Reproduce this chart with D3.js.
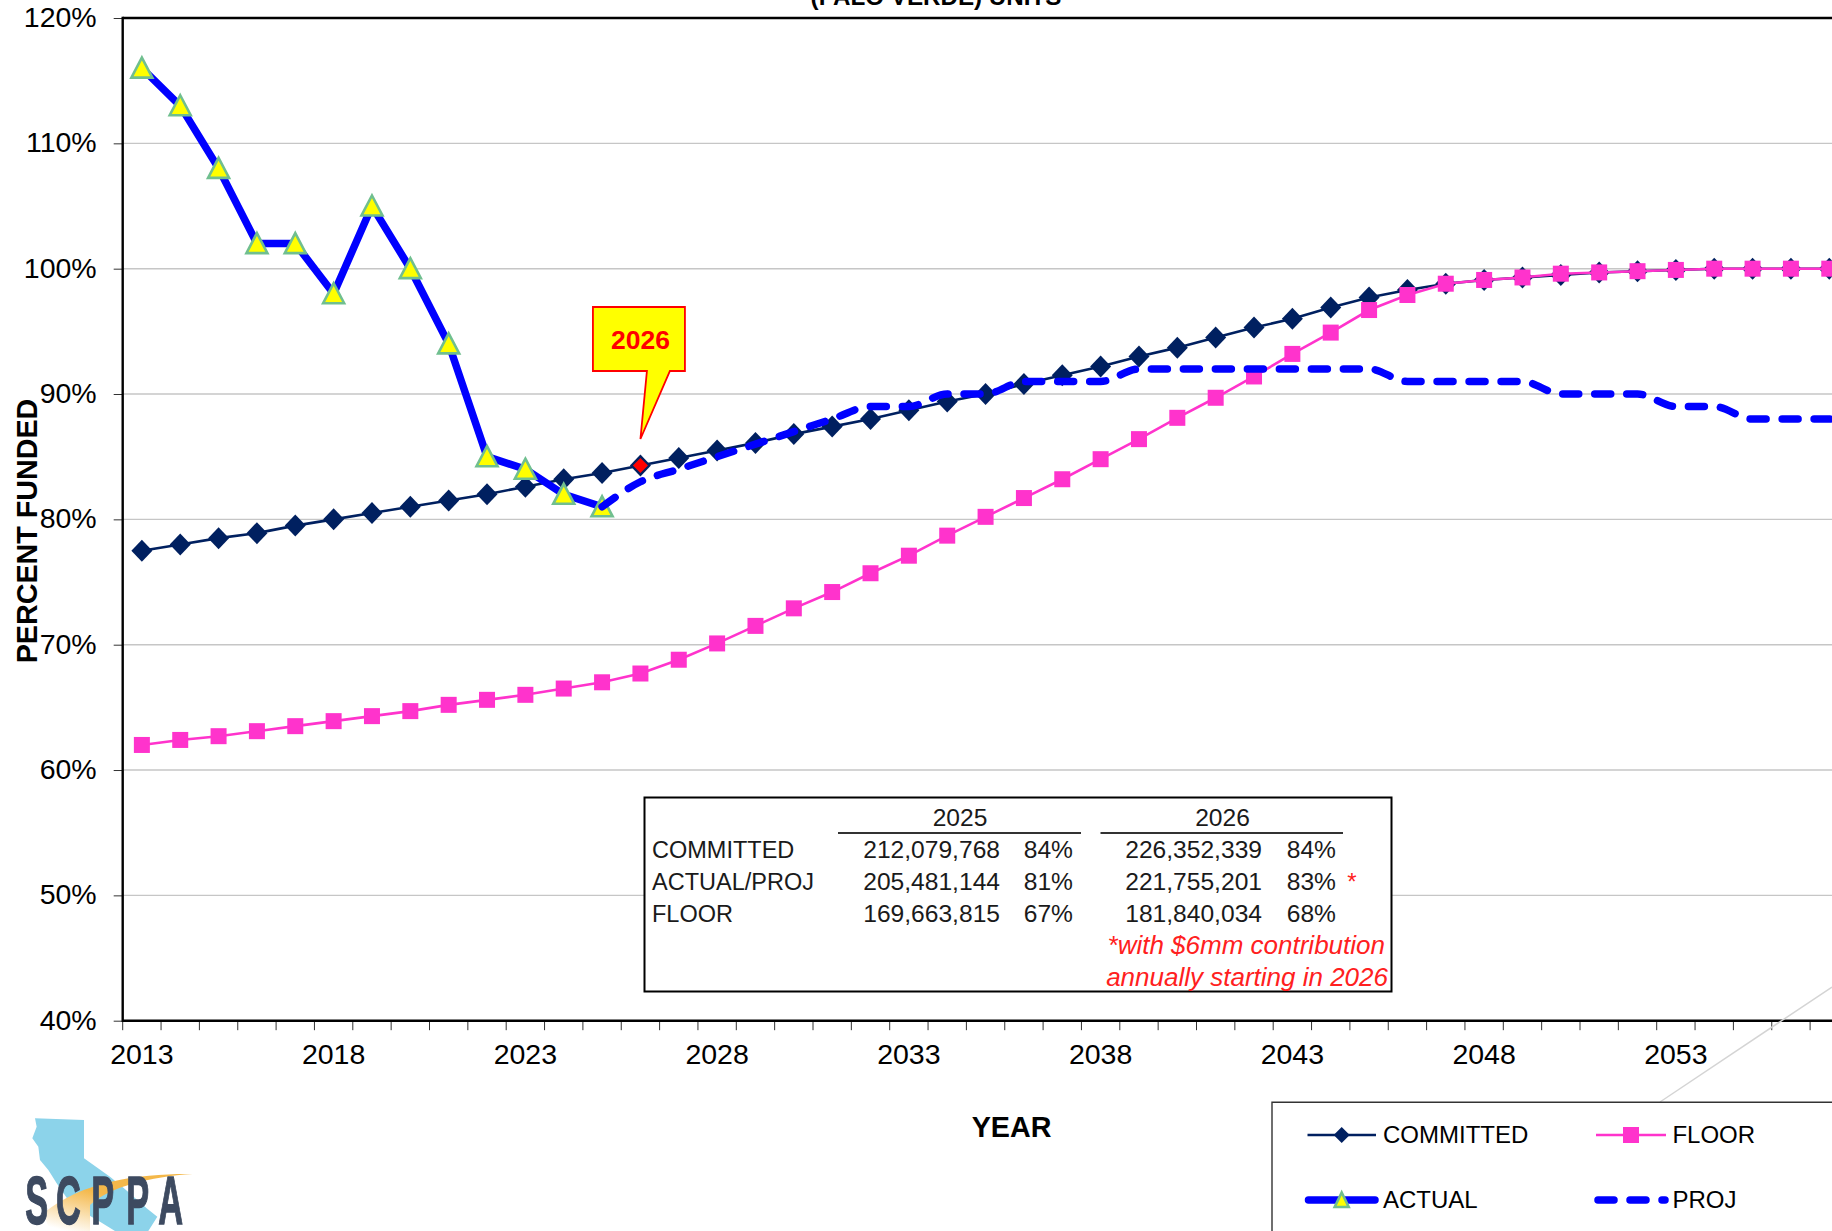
<!DOCTYPE html>
<html>
  <head>
    <style>
      html, body { margin: 0; padding: 0; background: #fff; overflow: hidden; }
      svg { display: block; }
      text { font-family: "Liberation Sans", Arial, sans-serif; }
      .axis-label { font-size: 28.5px; fill: #000; }
      .axis-title { font-size: 28.7px; font-weight: bold; fill: #000; }
      .box-text { font-size: 24.6px; fill: #1a1a1a; }
      .box-label { font-size: 23.5px; fill: #1a1a1a; }
      .note-text { font-size: 26px; font-style: italic; fill: #ff2020; }
      .legend-text { font-size: 24px; fill: #000; }
    </style>
  </head>
  <body>
    <svg width="1832" height="1231"></svg>
    <script src="https://d3js.org/d3.v7.min.js"></script>
    <script>
      // Chart data
      const years = d3.range(2013, 2059);
      const committed = [77.5, 78, 78.5, 78.9, 79.5, 80, 80.5, 81, 81.5, 82, 82.6, 83.2, 83.7, 84.3, 84.9, 85.5, 86.1, 86.8, 87.4, 88, 88.7, 89.4, 90, 90.8, 91.5, 92.2, 93, 93.7, 94.5, 95.3, 96, 96.9, 97.7, 98.3, 98.8, 99.1, 99.3, 99.5, 99.7, 99.8, 99.9, 100, 100, 100, 100, 100];
      const floorPct = [62, 62.4, 62.7, 63.1, 63.5, 63.9, 64.3, 64.7, 65.2, 65.6, 66, 66.5, 67, 67.7, 68.8, 70.1, 71.5, 72.9, 74.2, 75.7, 77.1, 78.7, 80.2, 81.7, 83.2, 84.8, 86.4, 88.1, 89.7, 91.4, 93.2, 94.9, 96.7, 97.9, 98.8, 99.1, 99.3, 99.6, 99.7, 99.8, 99.9, 100, 100, 100, 100, 100];
      const actualYears = d3.range(2013, 2026);
      const actual = [116, 113, 108, 102, 102, 98, 105, 100, 94, 85, 84, 82, 81];
      const projYears = d3.range(2025, 2059);
      const proj = [81, 83, 84, 85, 86, 87, 88, 89, 89, 90, 90, 91, 91, 91, 92, 92, 92, 92, 92, 92, 92, 91, 91, 91, 91, 90, 90, 90, 89, 89, 88, 88, 88, 88];
      const yTicks = [40, 50, 60, 70, 80, 90, 100, 110, 120];
      const xLabelYears = [2013, 2018, 2023, 2028, 2033, 2038, 2043, 2048, 2053];
      const highlightYear = 2026;

      // Text table inside the chart
      const tableHeaders = ["2025", "2026"];
      const tableRows = ["COMMITTED", "ACTUAL/PROJ", "FLOOR"];
      const tableAmounts2025 = ["212,079,768", "205,481,144", "169,663,815"];
      const tablePct2025 = ["84%", "81%", "67%"];
      const tableAmounts2026 = ["226,352,339", "221,755,201", "181,840,034"];
      const tablePct2026 = ["84%", "83%", "68%"];

      const plotLeft = 122.7, plotTop = 18, plotBottom = 1020.7, step = 38.35;
      const navy = "#002060", pink = "#ff33cc", blue = "#0000ff";

      const svg = d3.select("svg");

      const x = d3.scaleBand()
        .domain(years)
        .range([plotLeft, plotLeft + years.length * step]);
      const cx = (d) => x(d) + x.bandwidth() / 2;
      const y = d3.scaleLinear().domain([40, 120]).range([plotBottom, plotTop]);

      // Title, cut off by the top of the picture
      svg.append("text")
        .attr("x", 936)
        .attr("y", 4.5)
        .attr("text-anchor", "middle")
        .style("font-size", "24.2px")
        .style("font-weight", "bold")
        .text("(PALO VERDE) UNITS");

      // Gridlines
      svg.append("g")
        .selectAll("line")
        .data(yTicks.filter((d) => d > 40 && d < 120))
        .enter()
        .append("line")
        .attr("x1", plotLeft)
        .attr("x2", 1832)
        .attr("y1", (d) => y(d))
        .attr("y2", (d) => y(d))
        .attr("stroke", "#c6c6c6")
        .attr("stroke-width", 1.4);

      // Y axis
      const yAxis = svg.append("g")
        .attr("transform", `translate(${plotLeft},0)`)
        .call(d3.axisLeft(y).tickValues(yTicks).tickFormat((d) => d + "%").tickSize(9).tickPadding(17));
      yAxis.select(".domain").remove();
      yAxis.selectAll("line").attr("stroke", "#333").attr("stroke-width", 1);
      yAxis.selectAll("text").attr("class", "axis-label").attr("dy", "0.3em");

      // X axis, ticks sit between the years
      svg.append("g")
        .selectAll("line")
        .data(years)
        .enter()
        .append("line")
        .attr("x1", (d) => x(d))
        .attr("x2", (d) => x(d))
        .attr("y1", plotBottom)
        .attr("y2", plotBottom + 9.5)
        .attr("stroke", "#333")
        .attr("stroke-width", 1);
      const xAxis = svg.append("g")
        .attr("transform", `translate(0,${plotBottom})`)
        .call(d3.axisBottom(x).tickValues(xLabelYears).tickSize(0).tickPadding(23));
      xAxis.select(".domain").remove();
      xAxis.selectAll("text").attr("class", "axis-label");

      // Plot frame
      const frame = [
        [plotLeft, plotTop, 1832, plotTop],
        [plotLeft, plotBottom, 1832, plotBottom],
        [plotLeft, plotTop - 1.2, plotLeft, plotBottom + 1.2],
      ];
      svg.append("g")
        .selectAll("line")
        .data(frame)
        .enter()
        .append("line")
        .attr("x1", (d) => d[0])
        .attr("y1", (d) => d[1])
        .attr("x2", (d) => d[2])
        .attr("y2", (d) => d[3])
        .attr("stroke", "#000")
        .attr("stroke-width", 2.4);

      // Leftover leader line running up behind the legend
      svg.append("line")
        .attr("x1", 1660)
        .attr("y1", 1102)
        .attr("x2", 1832)
        .attr("y2", 987)
        .attr("stroke", "#d4d4d4")
        .attr("stroke-width", 1.5);

      const line = d3.line().x((d) => cx(d[0])).y((d) => y(d[1]));
      const diamond = "M0,-11L10.5,0L0,11L-10.5,0Z";
      const triangle = "M0,-10.5L10.5,9.5L-10.5,9.5Z";

      // Committed
      svg.append("path")
        .attr("d", line(d3.zip(years, committed)))
        .attr("fill", "none")
        .attr("stroke", navy)
        .attr("stroke-width", 2.6);
      svg.append("g")
        .selectAll("path")
        .data(d3.zip(years, committed))
        .enter()
        .append("path")
        .attr("transform", (d) => `translate(${cx(d[0])},${y(d[1])})`)
        .attr("d", diamond)
        .attr("fill", navy);
      // The 2026 point is picked out in red
      svg.append("path")
        .attr("transform", `translate(${cx(highlightYear)},${y(committed[years.indexOf(highlightYear)])})`)
        .attr("d", "M0,-7.5L7.5,0L0,7.5L-7.5,0Z")
        .attr("fill", "#ff0000");

      // Floor
      svg.append("path")
        .attr("d", line(d3.zip(years, floorPct)))
        .attr("fill", "none")
        .attr("stroke", pink)
        .attr("stroke-width", 2.6);
      svg.append("g")
        .selectAll("rect")
        .data(d3.zip(years, floorPct))
        .enter()
        .append("rect")
        .attr("x", (d) => cx(d[0]) - 8)
        .attr("y", (d) => y(d[1]) - 8)
        .attr("width", 16)
        .attr("height", 16)
        .attr("fill", pink);

      // Actual
      svg.append("path")
        .attr("d", line(d3.zip(actualYears, actual)))
        .attr("fill", "none")
        .attr("stroke", blue)
        .attr("stroke-width", 7.5);
      svg.append("g")
        .selectAll("path")
        .data(d3.zip(actualYears, actual))
        .enter()
        .append("path")
        .attr("transform", (d) => `translate(${cx(d[0])},${y(d[1])})`)
        .attr("d", triangle)
        .attr("fill", "#ffff00")
        .attr("stroke", "#70bf8f")
        .attr("stroke-width", 2.6);

      // Projection
      svg.append("path")
        .attr("d", line.curve(d3.curveMonotoneX)(d3.zip(projYears, proj)))
        .attr("fill", "none")
        .attr("stroke", blue)
        .attr("stroke-width", 7.5)
        .attr("stroke-linecap", "round")
        .attr("stroke-dasharray", "16 16");

      // 2026 callout
      const tipX = cx(highlightYear);
      svg.append("path")
        .attr("d", `M${tipX - 47.5},307 H${tipX + 44.5} V371 H${tipX + 29.5} L${tipX},439 L${tipX + 6.5},371 H${tipX - 47.5} Z`)
        .attr("fill", "#ffff00")
        .attr("stroke", "#ff0000")
        .attr("stroke-width", 1.8);
      svg.append("text")
        .attr("x", tipX)
        .attr("y", 349)
        .attr("text-anchor", "middle")
        .attr("fill", "#ff0000")
        .style("font-size", "26.5px")
        .style("font-weight", "bold")
        .text(highlightYear);

      // Table box
      const table = svg.append("g");
      table.append("rect")
        .attr("x", 644.5)
        .attr("y", 797.5)
        .attr("width", 747)
        .attr("height", 194)
        .attr("fill", "#fff")
        .attr("stroke", "#000")
        .attr("stroke-width", 2);
      const rowY = (i) => 858 + i * 32;
      const columns = [
        { headerX: 960, ruleFrom: 838, ruleTo: 1081, amountX: 1000, pctX: 1073, amounts: tableAmounts2025, pcts: tablePct2025 },
        { headerX: 1222.5, ruleFrom: 1100.5, ruleTo: 1343, amountX: 1262, pctX: 1336, amounts: tableAmounts2026, pcts: tablePct2026 },
      ];
      columns.forEach((c, k) => {
        table.append("text")
          .attr("class", "box-text")
          .attr("x", c.headerX)
          .attr("y", 826)
          .attr("text-anchor", "middle")
          .text(tableHeaders[k]);
        table.append("line")
          .attr("x1", c.ruleFrom)
          .attr("x2", c.ruleTo)
          .attr("y1", 833)
          .attr("y2", 833)
          .attr("stroke", "#333")
          .attr("stroke-width", 2);
        c.amounts.forEach((a, i) => {
          table.append("text").attr("class", "box-text").attr("x", c.amountX).attr("y", rowY(i)).attr("text-anchor", "end").text(a);
          table.append("text").attr("class", "box-text").attr("x", c.pctX).attr("y", rowY(i)).attr("text-anchor", "end").text(c.pcts[i]);
        });
      });
      tableRows.forEach((r, i) => {
        table.append("text").attr("class", "box-label").attr("x", 652).attr("y", rowY(i)).text(r);
      });
      table.append("text")
        .attr("x", 1352)
        .attr("y", rowY(1))
        .attr("text-anchor", "middle")
        .attr("fill", "#ff2020")
        .style("font-size", "24px")
        .text("*");
      table.append("text").attr("class", "note-text").attr("x", 1385).attr("y", 954).attr("text-anchor", "end").text("*with $6mm contribution");
      table.append("text").attr("class", "note-text").attr("x", 1388).attr("y", 986).attr("text-anchor", "end").text("annually starting in 2026");

      // Axis titles
      svg.append("text")
        .attr("class", "axis-title")
        .attr("x", 1011.5)
        .attr("y", 1137)
        .attr("text-anchor", "middle")
        .text("YEAR");
      svg.append("text")
        .attr("class", "axis-title")
        .attr("transform", "translate(37,531) rotate(-90)")
        .attr("text-anchor", "middle")
        .text("PERCENT FUNDED");

      // Legend, runs off the picture on the right and at the bottom
      svg.append("path")
        .attr("d", "M1272,1231 V1102.3 H1832")
        .attr("fill", "none")
        .attr("stroke", "#333")
        .attr("stroke-width", 1.4);
      const legend = svg.append("g");
      const row1 = 1135, row2 = 1200;
      legend.append("line").attr("x1", 1307.5).attr("x2", 1376).attr("y1", row1).attr("y2", row1).attr("stroke", navy).attr("stroke-width", 2.6);
      legend.append("path").attr("transform", `translate(1341.7,${row1})`).attr("d", "M0,-8L8,0L0,8L-8,0Z").attr("fill", navy);
      legend.append("line").attr("x1", 1596).attr("x2", 1666).attr("y1", row1).attr("y2", row1).attr("stroke", pink).attr("stroke-width", 2.6);
      legend.append("rect").attr("x", 1623).attr("y", row1 - 8).attr("width", 16).attr("height", 16).attr("fill", pink);
      legend.append("line").attr("x1", 1308.5).attr("x2", 1375).attr("y1", row2).attr("y2", row2).attr("stroke", blue).attr("stroke-width", 7.5).attr("stroke-linecap", "round");
      legend.append("path").attr("transform", `translate(1341.7,${row2})`).attr("d", "M0,-7.5L7,7L-7,7Z").attr("fill", "#ffff00").attr("stroke", "#70bf8f").attr("stroke-width", 2.6);
      legend.append("line").attr("x1", 1598).attr("x2", 1665).attr("y1", row2).attr("y2", row2).attr("stroke", blue).attr("stroke-width", 7.5).attr("stroke-linecap", "round").attr("stroke-dasharray", "16 16");
      legend.append("text").attr("class", "legend-text").attr("x", 1383).attr("y", 1143).text("COMMITTED");
      legend.append("text").attr("class", "legend-text").attr("x", 1672.4).attr("y", 1143).text("FLOOR");
      legend.append("text").attr("class", "legend-text").attr("x", 1383).attr("y", 1208).text("ACTUAL");
      legend.append("text").attr("class", "legend-text").attr("x", 1672.4).attr("y", 1208).text("PROJ");

      // SCPPA logo
      const defs = svg.append("defs");
      const grad = defs.append("linearGradient")
        .attr("id", "swoosh")
        .attr("x1", "0.7").attr("y1", "0.2").attr("x2", "0.15").attr("y2", "1");
      grad.append("stop").attr("offset", "0.3").attr("stop-color", "#f4b84a");
      grad.append("stop").attr("offset", "1").attr("stop-color", "#ffffff");
      const logo = svg.append("g").attr("transform", "translate(0,1105) scale(0.3333)");
      logo.append("path")
        .attr("d", "M105,40 L252,45 L252,160 L330,215 L372,250 L440,310 L472,335 L445,378 L345,378 L300,350 L215,300 L170,235 L145,195 L120,165 L115,125 L97,100 L110,65 Z")
        .attr("fill", "#8cd3ea");
      logo.append("path")
        .attr("d", "M578,207 C430,205 250,225 130,325 L150,378 L270,378 L270,300 C330,245 450,215 578,207 Z")
        .attr("fill", "url(#swoosh)");
      const logoLetters = ["S", "C", "P", "P", "A"];
      const logoLetterX = [110, 205, 308, 413, 512];
      logoLetters.forEach((l, i) => {
        logo.append("text")
          .attr("transform", `translate(${logoLetterX[i]},356) scale(0.5,1)`)
          .attr("text-anchor", "middle")
          .attr("fill", "#3d4a60")
          .attr("stroke", "#3d4a60")
          .attr("stroke-width", 4)
          .style("font-size", "206px")
          .style("font-weight", "bold")
          .text(l);
      });
    </script>
  </body>
</html>
